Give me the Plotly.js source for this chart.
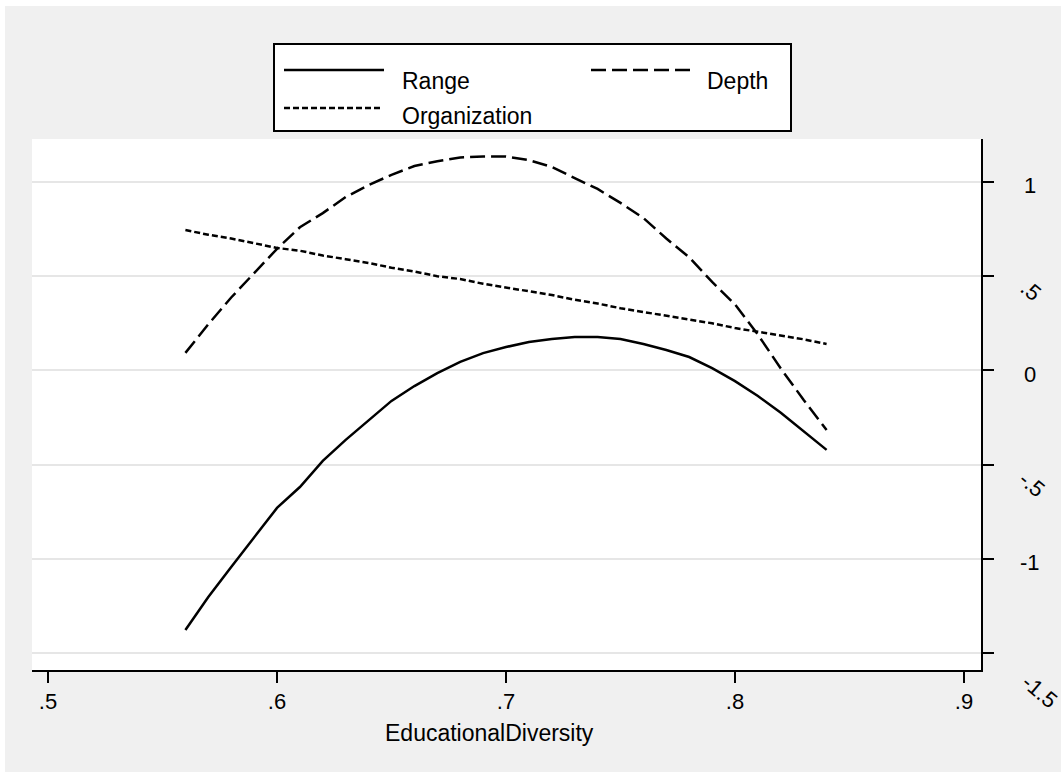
<!DOCTYPE html>
<html>
<head>
<meta charset="utf-8">
<script src="https://cdn.plot.ly/plotly-3.0.1.min.js"></script>
<style>html,body{margin:0;padding:0;background:#fff;}#chart{width:1063px;height:772px;}</style>
</head>
<body>
<div id="chart"></div>
<script>
// ---- data ----
const educationalDiversity = [0.56,0.57,0.58,0.59,0.60,0.61,0.62,0.63,0.64,0.65,0.66,0.67,0.68,0.69,0.70,
  0.71,0.72,0.73,0.74,0.75,0.76,0.77,0.78,0.79,0.80,0.81,0.82,0.83,0.84];
const rangeValues = [-1.378,-1.203,-1.043,-0.884,-0.730,-0.619,-0.480,-0.369,-0.268,-0.162,-0.083,-0.014,0.045,0.092,0.124,
  0.151,0.167,0.177,0.177,0.167,0.140,0.108,0.071,0.012,-0.057,-0.136,-0.225,-0.321,-0.422];
const depthValues = [0.093,0.245,0.387,0.517,0.645,0.760,0.835,0.920,0.984,1.038,1.085,1.110,1.130,1.135,1.135,
  1.116,1.080,1.021,0.963,0.889,0.809,0.700,0.600,0.470,0.350,0.190,0.010,-0.157,-0.316];
const organizationValues = [0.745,0.720,0.700,0.675,0.650,0.635,0.610,0.590,0.570,0.545,0.525,0.500,0.485,0.460,0.440,
  0.420,0.400,0.375,0.355,0.330,0.310,0.290,0.270,0.250,0.225,0.205,0.185,0.165,0.140];
const seriesNames = ['Range', 'Depth', 'Organization'];
const xTickVals = [0.5, 0.6, 0.7, 0.8, 0.9];
const xTickText = ['.5', '.6', '.7', '.8', '.9'];
const yTickVals = [1, 0.5, 0, -0.5, -1, -1.5];
const yTickText = ['1', '.5', '0', '-.5', '-1', '-1.5'];
const xTitle = 'EducationalDiversity';

// ---- layout geometry / styles ----
const W = 1063, H = 772;
const L = 32, R = 981, T = 139, B = 670;
const px = x => (x - L) / (R - L);
const py = y => (B - y) / (B - T);
const FONT = 'Liberation Sans, Arial, Helvetica, sans-serif';
const LW = 2.5;
const dashes = ['solid', '15px,6px', '6px,3px'];
const yLabelAngle = [0, 40, 0, 40, 0, 40];
const yLabelShift = [-3, -14, -4, -20, -4, -38];
const yLabelX = [1030, 1031, 1030, 1032, 1030, 1040];

const seriesY = [rangeValues, depthValues, organizationValues];
const traces = seriesY.map((ys, i) => ({
  type: 'scatter', mode: 'lines', x: educationalDiversity, y: ys, name: seriesNames[i],
  line: {color: '#000', width: LW, dash: dashes[i]}, showlegend: false, hoverinfo: 'x+y+name'
}));

const shapes = [
  // white border strips around the grey graph region
  {type:'rect', xref:'paper', yref:'paper', x0:-1, x1:px(5), y0:-1, y1:3, fillcolor:'#fff', line:{width:0}, layer:'below'},
  {type:'rect', xref:'paper', yref:'paper', x0:px(1061), x1:3, y0:-1, y1:3, fillcolor:'#fff', line:{width:0}, layer:'below'},
  {type:'rect', xref:'paper', yref:'paper', x0:-1, x1:3, y0:py(6), y1:3, fillcolor:'#fff', line:{width:0}, layer:'below'},
  // legend box
  {type:'rect', xref:'paper', yref:'paper', x0:px(274), x1:px(791), y0:py(131), y1:py(44), fillcolor:'#fff', line:{color:'#000', width:2}},
  // legend keys
  {type:'line', xref:'paper', yref:'paper', x0:px(284), x1:px(384), y0:py(70), y1:py(70), line:{color:'#000', width:LW, dash:dashes[0]}},
  {type:'line', xref:'paper', yref:'paper', x0:px(591), x1:px(690), y0:py(70), y1:py(70), line:{color:'#000', width:LW, dash:dashes[1]}},
  {type:'line', xref:'paper', yref:'paper', x0:px(284), x1:px(383), y0:py(108), y1:py(108), line:{color:'#000', width:LW, dash:dashes[2]}}
];

const annotations = [
  {text: seriesNames[0], xref:'paper', yref:'paper', x:px(400), y:py(81), xanchor:'left', yanchor:'middle', showarrow:false, font:{family:FONT, size:23, color:'#000'}},
  {text: seriesNames[1], xref:'paper', yref:'paper', x:px(705), y:py(81), xanchor:'left', yanchor:'middle', showarrow:false, font:{family:FONT, size:23, color:'#000'}},
  {text: seriesNames[2], xref:'paper', yref:'paper', x:px(400), y:py(116), xanchor:'left', yanchor:'middle', showarrow:false, font:{family:FONT, size:23, color:'#000'}},
  {text: xTitle, xref:'paper', yref:'paper', x:px(489), y:py(733), xanchor:'center', yanchor:'middle', showarrow:false, font:{family:FONT, size:23, color:'#000'}}
];
yTickText.forEach((t, i) => {
  annotations.push({text: t, xref:'paper', yref:'y', x: px(yLabelX[i]), y: yTickVals[i], yshift: yLabelShift[i],
    xanchor:'center', yanchor:'middle', textangle: yLabelAngle[i], showarrow:false,
    font:{family:FONT, size:22, color:'#000'}});
});

const layout = {
  width: W, height: H,
  margin: {l: L, r: W - R, t: T, b: H - B, pad: 0},
  paper_bgcolor: '#f0f0f0', plot_bgcolor: '#fff',
  showlegend: false,
  font: {family: FONT, size: 22, color: '#000'},
  xaxis: {
    range: [0.5 - (48 - L) / 2290, 0.9 + (R - 964) / 2290],
    tickvals: xTickVals, ticktext: xTickText,
    ticks: 'outside', ticklen: 11, tickwidth: 2, tickcolor: '#000',
    showline: true, linecolor: '#000', linewidth: 2,
    showgrid: false, zeroline: false,
    tickfont: {family: FONT, size: 22, color: '#000'}
  },
  yaxis: {
    side: 'right',
    range: [-1.5 - (B - 653) / 188.4, 1 + (182 - T) / 188.4],
    tickvals: yTickVals, showticklabels: false,
    ticks: 'outside', ticklen: 11, tickwidth: 2, tickcolor: '#000',
    showline: true, linecolor: '#000', linewidth: 2,
    showgrid: true, gridcolor: '#e6e6e6', gridwidth: 2, zeroline: false
  },
  shapes: shapes,
  annotations: annotations
};

Plotly.newPlot('chart', traces, layout, {displayModeBar: false, staticPlot: true});
</script>
</body>
</html>
